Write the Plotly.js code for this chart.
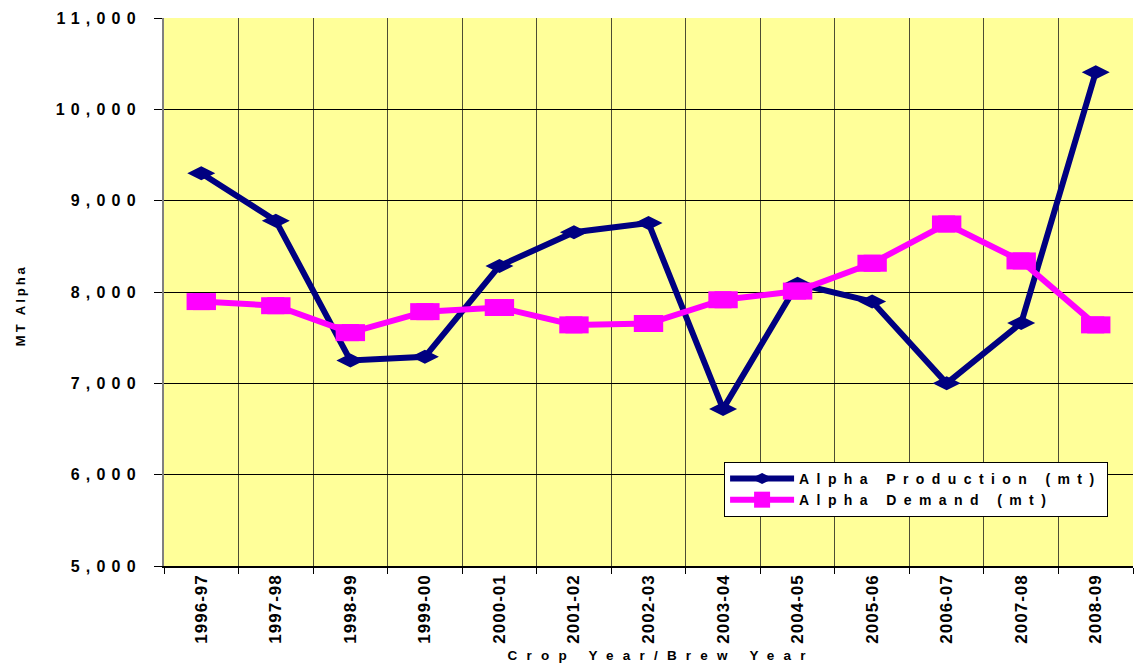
<!DOCTYPE html>
<html>
<head>
<meta charset="utf-8">
<script src="https://cdn.plot.ly/plotly-3.0.1.min.js"></script>
<style>
  html, body { margin: 0; padding: 0; background: #ffffff; }
  #chart { width: 1135px; height: 667px; }
  .ytick text { letter-spacing: 6.2px; }
  .xtick text { letter-spacing: 1px; }
  .legendtext { letter-spacing: 7.4px; }
  .annotation[data-index="0"] .annotation-text { letter-spacing: 3px; }
  .annotation[data-index="1"] .annotation-text { letter-spacing: 9.2px; }
</style>
</head>
<body>
<div id="chart"></div>
<script>
const years = ["1996-97","1997-98","1998-99","1999-00","2000-01","2001-02","2002-03",
               "2003-04","2004-05","2005-06","2006-07","2007-08","2008-09"];
const production = [9300, 8780, 7250, 7290, 8285, 8655, 8755, 6720, 8090, 7895, 7000, 7660, 10405];
const demand = [7895, 7850, 7555, 7785, 7830, 7640, 7655, 7915, 8010, 8315, 8745, 8340, 7640];
const yTicks = [5000, 6000, 7000, 8000, 9000, 10000, 11000];
const seriesNames = ["Alpha Production (mt)", "Alpha Demand (mt)"];
const xTitle = "Crop Year/Brew Year";
const yTitle = "MT Alpha";

const font = "'Liberation Sans', Arial, sans-serif";

const traces = [
  {
    x: years, y: production, name: seriesNames[0], type: "scatter", mode: "lines+markers",
    line: { color: "#000080", width: 6 },
    marker: { symbol: "diamond-wide", size: 20, color: "#000080", line: { width: 0 } }
  },
  {
    x: years, y: demand, name: seriesNames[1], type: "scatter", mode: "lines+markers",
    line: { color: "#FF00FF", width: 6 },
    marker: { symbol: "square", size: 17, color: "#FF00FF", line: { width: 0 } }
  },
  {
    x: years, y: demand, name: seriesNames[1], type: "scatter", mode: "markers",
    showlegend: false,
    marker: { symbol: "line-ew", size: 21, color: "#FF00FF", line: { color: "#FF00FF", width: 17 } }
  }
];

const layout = {
  width: 1135, height: 667,
  margin: { l: 164, r: 2, t: 18, b: 101 },
  paper_bgcolor: "#ffffff",
  plot_bgcolor: "#FFFF99",
  font: { family: font, color: "#000000" },
  showlegend: true,
  legend: {
    x: 0.578, y: 0.19, xanchor: "left", yanchor: "top",
    bgcolor: "#ffffff", bordercolor: "#000000", borderwidth: 1,
    font: { family: font, size: 14, color: "#000000", weight: "bold" },
    itemwidth: 64, tracegroupgap: 0
  },
  xaxis: {
    type: "category",
    tickson: "boundaries",
    range: [-0.5, 12.5],
    showgrid: true, gridcolor: "#4d4d33", gridwidth: 1,
    showline: true, linecolor: "#000000", linewidth: 1.5,
    ticks: "outside", ticklen: 6, tickcolor: "#000000",
    tickangle: -90,
    tickfont: { family: font, size: 17, color: "#000000", weight: "bold" },
    automargin: false, zeroline: false, fixedrange: true
  },
  yaxis: {
    range: [5000, 11000],
    tickmode: "array", tickvals: yTicks,
    tickformat: ",d",
    showgrid: true, gridcolor: "#000000", gridwidth: 1,
    showline: true, linecolor: "#808080", linewidth: 2,
    ticks: "outside", ticklen: 8, tickcolor: "#000000",
    tickfont: { family: font, size: 16, color: "#000000", weight: "bold" },
    ticklabelstandoff: 9,
    automargin: false, zeroline: false, fixedrange: true
  },
  annotations: [
    {
      text: yTitle, textangle: -90, showarrow: false,
      xref: "paper", yref: "paper", x: -0.1486, y: 0.476,
      xanchor: "center", yanchor: "middle",
      font: { family: font, size: 13, color: "#000000", weight: "bold" }
    },
    {
      text: xTitle, showarrow: false,
      xref: "paper", yref: "paper", x: 0.5129, y: -0.1642,
      xanchor: "center", yanchor: "middle",
      font: { family: font, size: 13.5, color: "#000000", weight: "bold" }
    }
  ]
};

Plotly.newPlot("chart", traces, layout, { displayModeBar: false, staticPlot: true });
</script>
</body>
</html>
